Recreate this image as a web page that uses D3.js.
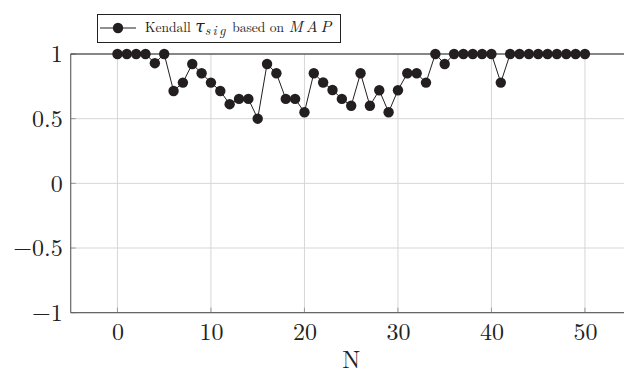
<!DOCTYPE html>
<html><head><meta charset="utf-8">
<script src="https://cdn.jsdelivr.net/npm/d3@7"></script>
<style>body{margin:0;background:#fff}svg{display:block}</style>
</head><body>
<svg id="c" width="624" height="377"></svg>
<script>
const nValues = d3.range(0, 51);
const tauValues = [1,1,1,1,0.929,1,0.714,0.779,0.923,0.851,
  0.779,0.714,0.612,0.653,0.653,0.5,0.923,0.851,0.653,0.653,
  0.55,0.851,0.78,0.722,0.653,0.6,0.851,0.6,0.72,0.55,
  0.72,0.851,0.851,0.779,1,0.923,1,1,1,1,
  1,0.779,1,1,1,1,1,1,1,1,1];
const xTicks = [0,10,20,30,40,50];
const yTicks = [-1,-0.5,0,0.5,1];
const yTickLabels = ["\u22121","\u22120.5","0","0.5","1"];

const svg = d3.select("#c");
const serif = "'Latin Modern Roman','CMU Serif','DejaVu Serif',serif";
const x = d3.scaleLinear().domain([-5,55]).range([70.7,631.7]);
const y = d3.scaleLinear().domain([-1,1]).range([312.7,54]);

// grid
svg.append("g").selectAll("line").data(xTicks).join("line")
  .attr("x1",d=>x(d)).attr("x2",d=>x(d)).attr("y1",y(-1)).attr("y2",y(1))
  .attr("stroke","#d6d6d6").attr("stroke-width",1);
svg.append("g").selectAll("line").data(yTicks).join("line")
  .attr("x1",x(-5)).attr("x2",x(55)).attr("y1",d=>y(d)).attr("y2",d=>y(d))
  .attr("stroke","#d6d6d6").attr("stroke-width",1);

// axes
const xAxis = d3.axisBottom(x).tickValues(xTicks).tickSize(0).tickPadding(10).tickFormat(d3.format("d"));
const gx = svg.append("g").attr("transform",`translate(0,${y(-1)})`).call(xAxis);
gx.select(".domain").remove();
gx.selectAll("text").attr("font-family",serif).attr("font-size",24).attr("fill","#222");
const yAxis = d3.axisLeft(y).tickValues(yTicks).tickSize(0).tickPadding(8).tickFormat((d,i)=>yTickLabels[i]);
const gy = svg.append("g").attr("transform",`translate(${x(-5)},0)`).call(yAxis);
gy.select(".domain").remove();
gy.selectAll("text").attr("font-family",serif).attr("font-size",24).attr("fill","#222");

// small tick marks
svg.append("g").selectAll("line").data(xTicks).join("line")
  .attr("x1",d=>x(d)).attr("x2",d=>x(d)).attr("y1",y(-1)).attr("y2",y(-1)-5)
  .attr("stroke","#999");
svg.append("g").selectAll("line").data(yTicks).join("line")
  .attr("x1",x(-5)).attr("x2",x(-5)+5).attr("y1",d=>y(d)).attr("y2",d=>y(d))
  .attr("stroke","#999");

// frame
svg.append("line").attr("x1",x(-5)).attr("x2",x(-5)).attr("y1",y(-1)).attr("y2",y(1)).attr("stroke","#666").attr("stroke-width",1.2);
svg.append("line").attr("x1",x(-5)).attr("x2",x(55)).attr("y1",y(-1)).attr("y2",y(-1)).attr("stroke","#666").attr("stroke-width",1.2);
svg.append("line").attr("x1",x(-5)).attr("x2",x(55)).attr("y1",y(1)).attr("y2",y(1)).attr("stroke","#222").attr("stroke-width",1.2);

// axis title
svg.append("text").attr("x",x(25)).attr("y",368).attr("text-anchor","middle")
  .attr("font-family",serif).attr("font-size",24).attr("fill","#222").text("N");

// data
const pts = nValues.map((n,i)=>[n,tauValues[i]]);
svg.append("path").datum(pts)
  .attr("d",d3.line().x(d=>x(d[0])).y(d=>y(d[1])))
  .attr("fill","none").attr("stroke","#231f20").attr("stroke-width",1);
svg.append("g").selectAll("circle").data(pts).join("circle")
  .attr("cx",d=>x(d[0])).attr("cy",d=>y(d[1])).attr("r",5.2)
  .attr("fill","#231f20");

// legend
const lg = svg.append("g");
lg.append("rect").attr("x",97.5).attr("y",14.5).attr("width",243).attr("height",28)
  .attr("fill","#fff").attr("stroke","#222").attr("stroke-width",1);
lg.append("line").attr("x1",100).attr("x2",136).attr("y1",28).attr("y2",28).attr("stroke","#231f20");
lg.append("circle").attr("cx",118).attr("cy",28).attr("r",5.2).attr("fill","#231f20");
const t = lg.append("text").attr("x",145).attr("y",32).attr("font-family",serif).attr("font-size",13.5).attr("fill","#222");
t.append("tspan").text("Kendall ");
t.append("tspan").attr("font-style","italic").attr("font-size",17).text("\u03c4");
t.append("tspan").attr("font-style","italic").attr("font-size",13.5).attr("dy",3).attr("letter-spacing",2.4).text("sig");
t.append("tspan").attr("dy",-3).text(" based on ");
t.append("tspan").attr("font-style","italic").attr("font-size",16).attr("letter-spacing",2.8).text("MAP");
</script>
</body></html>
